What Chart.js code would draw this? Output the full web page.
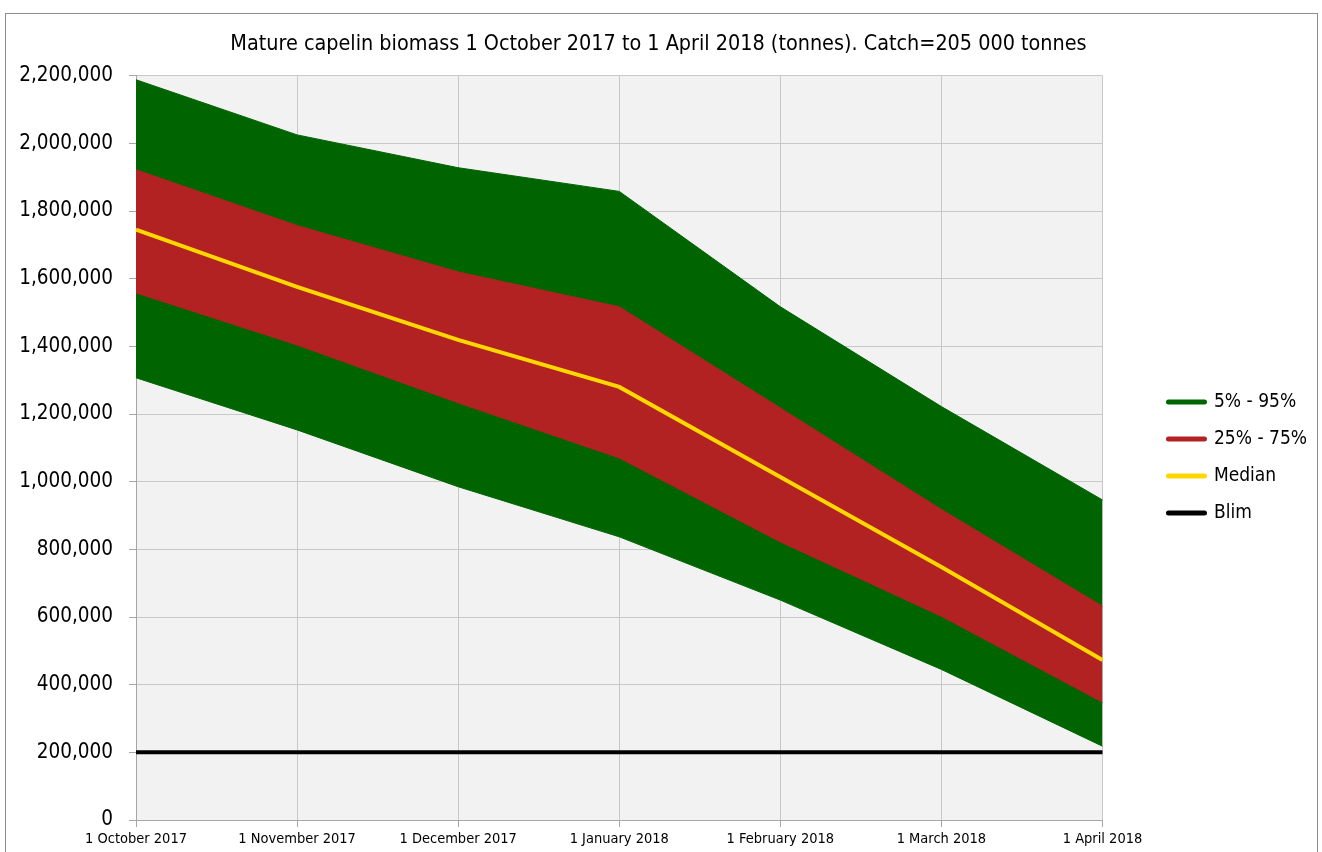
<!doctype html>
<html>
  <head>
    <meta charset="utf-8" />
    <title>Mature capelin biomass</title>
    <script src="https://cdn.jsdelivr.net/npm/chart.js"></script>
    <style>
      html, body { margin: 0; padding: 0; background: #fff; }
      #wrap { width: 1322px; height: 852px; }
    </style>
  </head>
  <body>
    <div id="wrap"><canvas id="chart" width="1322" height="852"></canvas></div>
    <script type="text/javascript">
      // values, one per month (tonnes)
      const months = ["1 October 2017", "1 November 2017", "1 December 2017", "1 January 2018",
        "1 February 2018", "1 March 2018", "1 April 2018"];
      const p95 = [2188000, 2025000, 1928000, 1858000, 1517000, 1222000, 946000];
      const p75 = [1922000, 1757000, 1620000, 1517000, 1218000, 918000, 632000];
      const median = [1745000, 1576000, 1419000, 1280000, 1014000, 748000, 473000];
      const p25 = [1558000, 1404000, 1233000, 1070000, 822000, 602000, 348000];
      const p5 = [1307000, 1153000, 985000, 837000, 650000, 445000, 218000];
      const blim = [200000, 200000, 200000, 200000, 200000, 200000, 200000];

      const FONT = "'DejaVu Sans Condensed', 'Liberation Sans Narrow', 'DejaVu Sans', sans-serif";
      const GREEN = "#006400";
      const RED = "#b22222";
      const GOLD = "#ffd700";

      // white page, grey frame and grey plot background
      const background = {
        id: "background",
        beforeDraw(chart) {
          const { ctx, chartArea } = chart;
          ctx.save();
          ctx.fillStyle = "#fff";
          ctx.fillRect(0, 0, chart.width, chart.height);
          ctx.strokeStyle = "#8c8c8c";
          ctx.lineWidth = 1;
          ctx.strokeRect(5.5, 13.5, 1312, 900);
          ctx.fillStyle = "#f2f2f2";
          ctx.fillRect(chartArea.left, chartArea.top, chartArea.right - chartArea.left, chartArea.bottom - chartArea.top);
          ctx.restore();
        },
      };

      const line = (label, data, color, extra) =>
        Object.assign({ label, data, borderColor: color, backgroundColor: color, borderWidth: 1, pointRadius: 0, tension: 0 }, extra);

      new Chart(document.getElementById("chart"), {
        type: "line",
        data: {
          labels: months,
          datasets: [
            line("5% - 95%", p95, GREEN, { fill: 4, order: 4 }),
            line("25% - 75%", p75, RED, { fill: 5, order: 2 }),
            line("Median", median, GOLD, { borderWidth: 4, fill: false, order: 0 }),
            line("Blim", blim, "#000", { borderWidth: 4, fill: false, order: 1 }),
            line("p5", p5, GREEN, { fill: false, order: 5 }),
            line("p25", p25, RED, { fill: false, order: 3 }),
          ],
        },
        options: {
          responsive: false,
          animation: false,
          layout: { padding: { left: 0, right: 5, top: 0, bottom: 0 } },
          plugins: {
            title: {
              display: true,
              text: "Mature capelin biomass 1 October 2017 to 1 April 2018 (tonnes). Catch=205 000 tonnes",
              color: "#000",
              font: { family: FONT, size: 21.4, weight: "normal", lineHeight: 1.2 },
              padding: { top: 32, bottom: 18 },
            },
            legend: {
              position: "right",
              align: "center",
              title: { display: true, text: "", font: { size: 1 }, padding: { top: 62, bottom: 0 } },
              labels: {
                color: "#000",
                font: { family: FONT, size: 19 },
                usePointStyle: true,
                pointStyleWidth: 36,
                boxHeight: 17,
                padding: 18,
                filter: (item) => item.datasetIndex < 4,
                sort: (a, b) => a.datasetIndex - b.datasetIndex,
                generateLabels: (chart) =>
                  chart.data.datasets.map((ds, i) => ({
                    text: ds.label,
                    datasetIndex: i,
                    fillStyle: ds.borderColor,
                    strokeStyle: ds.borderColor,
                    lineWidth: 5,
                    lineCap: "round",
                    pointStyle: "line",
                    fontColor: "#000",
                  })),
              },
            },
            tooltip: { enabled: false },
          },
          scales: {
            x: {
              offset: false,
              grid: { color: "#c8c8c8", tickLength: 7, tickColor: "#a6a6a6" },
              border: { color: "#a6a6a6" },
              ticks: { color: "#000", font: { family: FONT, size: 14.5 }, padding: 4, maxRotation: 0, autoSkip: false },
              afterFit: (scale) => { scale.height = 32; },
            },
            y: {
              min: 0,
              max: 2200000,
              grid: { color: "#c8c8c8", tickLength: 7, tickColor: "#a6a6a6" },
              border: { color: "#a6a6a6" },
              ticks: {
                stepSize: 200000,
                color: "#000",
                padding: 16,
                font: { family: FONT, size: 20.5 },
                callback: (v) => v.toLocaleString("en-US"),
              },
              afterFit: (scale) => { scale.width = 136; },
            },
            // empty spacer between the plot and the legend
            gap: {
              type: "linear",
              position: "right",
              grid: { display: false, drawTicks: false },
              border: { display: false },
              ticks: { display: false },
              afterFit: (scale) => { scale.width = 48; },
            },
          },
        },
        plugins: [background],
      });
    </script>
  </body>
</html>
